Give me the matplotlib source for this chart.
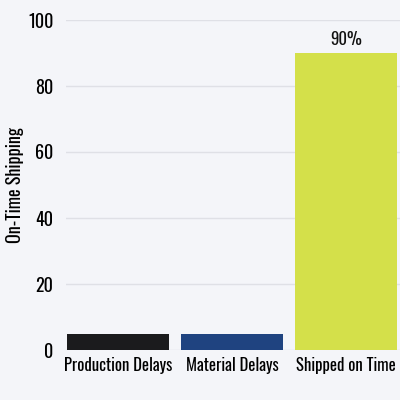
import matplotlib
matplotlib.use("Agg")
import matplotlib.pyplot as plt
from matplotlib import font_manager

categories = ["Production Delays", "Material Delays", "Shipped on Time"]
values = [5, 5, 90]
colors = ["#1b1b1d", "#1f4380", "#d4e04a"]
yticks = [0, 20, 40, 60, 80, 100]

# pick a condensed face close to the reference
names = {f.name for f in font_manager.fontManager.ttflist}
for fam in ["Oswald", "Roboto Condensed", "Barlow Condensed", "Saira SemiCondensed", "DejaVu Sans"]:
    if fam in names:
        break
plt.rcParams["font.family"] = [fam, "DejaVu Sans"]
wt = "bold"

bg = "#f4f5f9"
fig = plt.figure(figsize=(4, 4), dpi=100, facecolor=bg)
ax = fig.add_axes([66 / 400, 50 / 400, 334 / 400, 330 / 400], facecolor=bg)

width = 0.895
for i, (v, c) in enumerate(zip(values, colors)):
    ax.bar(i, v, width=width, color=c, zorder=3)

ax.text(2, values[2] + 1.5, f"{values[2]}%", ha="center", va="bottom",
        fontsize=12, fontweight=wt, color="#111111")

ax.set_xlim(-0.456, 2.47)
ax.set_ylim(0, 100)
ax.set_yticks(yticks)
ax.set_xticks(range(len(categories)))
ax.set_xticklabels(categories, fontsize=12, fontweight=wt)
ax.tick_params(axis="y", labelsize=13, length=0, pad=9)
ax.tick_params(axis="x", length=0, pad=5)
for lab in ax.get_yticklabels():
    lab.set_fontweight(wt)
ax.set_ylabel("On-Time Shipping", fontsize=13, fontweight=wt)
ax.yaxis.set_label_coords(-42 / 334, 0.5)
ax.grid(axis="y", color="#dfe0e6", linewidth=1, zorder=0)
for s in ax.spines.values():
    s.set_visible(False)

fig.savefig("out.png", dpi=100, facecolor=bg)
